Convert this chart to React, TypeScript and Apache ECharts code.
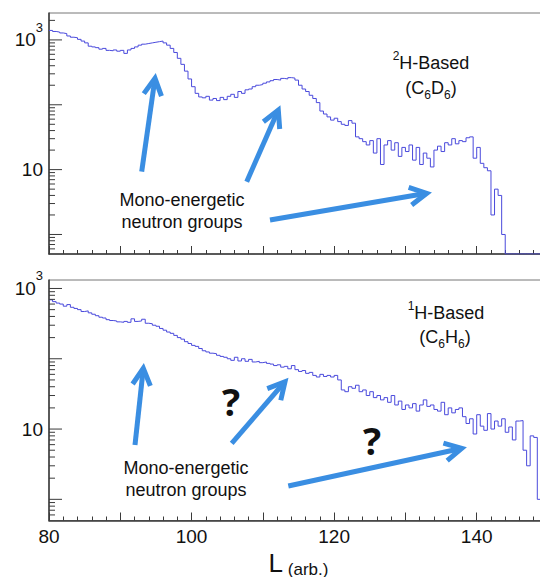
import React, { useEffect, useRef } from "react";
import * as echarts from "echarts";

// ---------- data ----------
const BIN_START = 80;
const BIN_WIDTH = 0.5;
const X_MIN = 80;
const X_MAX = 150;
const X_LABELS = [80, 100, 120, 140];
const Y_MIN = 0.5;
const TOP_Y_MAX = 2600;
const BOTTOM_Y_MAX = 1320;
const Y_MAJOR_TICKS = [1, 10, 100, 1000];
const Y_MINOR_TICKS = [
  0.6, 0.7, 0.8, 0.9, 2, 3, 4, 5, 6, 7, 8, 9, 20, 30, 40, 50, 60, 70, 80, 90,
  200, 300, 400, 500, 600, 700, 800, 900, 2000,
];
const Y_LABEL_EXPONENTS = [1, 3];

// 2H-based (C6D6) counts, bins of 0.5 from L = 80
const countsC6D6 = [
  1400, 1350, 1320, 1280, 1250, 1150, 1100, 1080, 1020, 960,
  900, 800, 780, 760, 720, 740, 690, 680, 700, 670,
  690, 620, 700, 740, 780, 830, 860, 880, 900, 920,
  940, 960, 900, 830, 740, 640, 520, 420, 330, 250,
  190, 150, 132, 128, 135, 118, 125, 116, 130, 120,
  135, 145, 130, 160, 150, 170, 175, 190, 200, 205,
  215, 225, 235, 245, 240, 255, 250, 262, 258, 240,
  200, 175, 160, 140, 125, 108, 80, 72, 65, 58,
  62, 55, 50, 48, 57, 52, 32, 30, 27, 24,
  28, 18, 30, 12, 24, 28, 20, 26, 16, 22,
  19, 24, 14, 22, 12, 18, 15, 11, 20, 23,
  19, 26, 24, 30, 25, 28, 27, 31, 32, 15,
  22, 12.5, 10.7, 9.6, 2, 5, 4, 1, 0, 0,
  0, 0, 0, 0, 0, 0, 0, 0, 0, 0,
];

// 1H-based (C6H6) counts, bins of 0.5 from L = 80
const countsC6H6 = [
  690, 650, 620, 600, 560, 590, 540, 520, 500, 470,
  480, 450, 430, 410, 390, 380, 360, 350, 345, 335,
  330, 340, 330, 370, 340, 345, 365, 320, 315, 300,
  290, 270, 255, 240, 230, 215, 200, 190, 175, 165,
  155, 150, 140, 130, 125, 120, 118, 112, 108, 105,
  100, 95, 105, 93, 100, 92, 98, 90, 92, 88,
  90, 86, 84, 80, 82, 76, 78, 72, 80, 70,
  66, 68, 62, 64, 58, 55, 60, 56, 58, 55,
  58, 50, 36, 34, 40, 38, 42, 34, 36, 30,
  34, 28, 30, 26, 28, 24, 30, 22, 25, 19,
  22, 20, 23, 18, 22, 26, 21, 22, 19, 18,
  24, 16, 20, 17, 19, 20, 15, 12, 14, 8.5,
  16, 11, 9.6, 16.6, 10, 13, 11, 14, 9, 10.7,
  7, 13, 13.2, 5, 3, 8, 7.6, 1, 1, 1,
];

// ---------- styles ----------
const FONT = "Liberation Sans";
const AXIS_COLOR = "#3a3a3a";
const HIST_COLOR = "#4a4adc";
const ARROW_COLOR = "#3a8ee2";
const TEXT_COLOR = "#111";

function buildHist(counts: number[]) {
  const pts: number[][] = counts.map((c, i) => [
    BIN_START + i * BIN_WIDTH,
    Math.max(c, Y_MIN),
  ]);
  pts.push([
    BIN_START + counts.length * BIN_WIDTH,
    Math.max(counts[counts.length - 1], Y_MIN),
  ]);
  return pts;
}

function tickSeries(g: number, max: number) {
  const data = [
    ...Y_MAJOR_TICKS.filter((v) => v <= max).map((v) => [X_MIN, v, 1]),
    ...Y_MINOR_TICKS.filter((v) => v <= max).map((v) => [X_MIN, v, 0]),
  ];
  return {
    type: "custom",
    xAxisIndex: g,
    yAxisIndex: g,
    silent: true,
    clip: false,
    z: 5,
    data,
    renderItem: (params: any, api: any) => {
      const p = api.coord([api.value(0), api.value(1)]);
      const len = api.value(2) ? 13 : 6;
      return {
        type: "line",
        shape: { x1: p[0], y1: p[1], x2: p[0] + len, y2: p[1] },
        style: { stroke: AXIS_COLOR, lineWidth: 1 },
      };
    },
  };
}

function xAxis(g: number, labels: boolean) {
  return {
    type: "value",
    gridIndex: g,
    min: X_MIN,
    max: X_MAX,
    interval: 10,
    axisLine: { show: true, onZero: false, lineStyle: { color: AXIS_COLOR, width: 1.5 } },
    axisTick: { show: true, inside: true, length: 8, lineStyle: { color: AXIS_COLOR, width: 1 } },
    minorTick: { show: true, splitNumber: 5, length: 4, lineStyle: { color: AXIS_COLOR, width: 1 } },
    splitLine: { show: false },
    axisLabel: {
      show: labels,
      margin: 6,
      fontSize: 19,
      fontFamily: FONT,
      color: TEXT_COLOR,
      formatter: (v: number) => (X_LABELS.indexOf(v) >= 0 ? String(v) : ""),
    },
    name: labels ? "{L|L}{a| (arb.)}" : "",
    nameLocation: "middle",
    nameGap: 27,
    nameTextStyle: {
      fontFamily: FONT,
      color: TEXT_COLOR,
      rich: {
        L: { fontSize: 26, lineHeight: 30, fontFamily: FONT, color: TEXT_COLOR, verticalAlign: "middle" },
        a: { fontSize: 17, lineHeight: 27, fontFamily: FONT, color: TEXT_COLOR, verticalAlign: "bottom" },
      },
    },
  };
}

function yAxis(g: number, max: number) {
  return {
    type: "log",
    logBase: 10,
    gridIndex: g,
    min: Y_MIN,
    max,
    axisLine: { show: true, onZero: false, lineStyle: { color: AXIS_COLOR, width: 1.5 } },
    axisTick: { show: false },
    minorTick: { show: false },
    splitLine: { show: false },
    axisLabel: {
      margin: 6,
      formatter: (v: number) => {
        const l = Math.log10(v);
        const e = Math.round(l);
        if (Math.abs(l - e) > 1e-6 || Y_LABEL_EXPONENTS.indexOf(e) < 0) return "";
        return e === 1 ? "{b|10}" : "{b|10}{s|" + e + "}";
      },
      rich: {
        b: { fontSize: 19, lineHeight: 38, fontFamily: FONT, color: TEXT_COLOR, verticalAlign: "middle" },
        s: { fontSize: 13, lineHeight: 13, fontFamily: FONT, color: TEXT_COLOR, verticalAlign: "top" },
      },
    },
  };
}

// ---------- annotations ----------
function arrow(from: number[], to: number[]) {
  const dx = to[0] - from[0];
  const dy = to[1] - from[1];
  const len = Math.hypot(dx, dy);
  const ux = dx / len;
  const uy = dy / len;
  const a = (28 * Math.PI) / 180;
  const L = 19;
  const rx = -ux;
  const ry = -uy;
  const arm = (s: number) => [
    to[0] + L * (rx * Math.cos(s * a) - ry * Math.sin(s * a)),
    to[1] + L * (rx * Math.sin(s * a) + ry * Math.cos(s * a)),
  ];
  return [
    {
      type: "line",
      shape: { x1: from[0], y1: from[1], x2: to[0] - ux * 3, y2: to[1] - uy * 3 },
      style: { stroke: ARROW_COLOR, lineWidth: 5, lineCap: "butt" },
      z: 100,
    },
    {
      type: "polyline",
      shape: { points: [arm(1), to, arm(-1)] },
      style: { stroke: ARROW_COLOR, lineWidth: 5, fill: null, lineJoin: "miter", lineCap: "butt" },
      z: 100,
    },
  ];
}

const supRich = {
  b: { fontSize: 18, lineHeight: 26, fontFamily: FONT, fill: TEXT_COLOR, verticalAlign: "middle" },
  s: { fontSize: 12, lineHeight: 12, fontFamily: FONT, fill: TEXT_COLOR, verticalAlign: "top" },
};
const subRich = {
  b: { fontSize: 18, lineHeight: 26, fontFamily: FONT, fill: TEXT_COLOR, verticalAlign: "middle" },
  s: { fontSize: 12, lineHeight: 16, fontFamily: FONT, fill: TEXT_COLOR, verticalAlign: "bottom" },
};

function label(x: number, y: number, text: string, rich: any) {
  return {
    type: "text",
    x,
    y,
    z: 100,
    style: { text, rich, align: "center", verticalAlign: "middle" },
  };
}

function plain(x: number, y: number, text: string) {
  return {
    type: "text",
    x,
    y,
    z: 100,
    style: {
      text,
      fontSize: 18,
      lineHeight: 22,
      fontFamily: FONT,
      fill: TEXT_COLOR,
      align: "center",
      verticalAlign: "middle",
    },
  };
}

function question(x: number, y: number) {
  return {
    type: "text",
    x,
    y,
    z: 100,
    style: {
      text: "?",
      fontSize: 38,
      fontWeight: "bold",
      fontFamily: "Open Sans",
      fill: TEXT_COLOR,
      align: "center",
      verticalAlign: "middle",
    },
  };
}

const graphics = [
  plain(182, 211, "Mono-energetic\nneutron groups"),
  label(431, 63, "{s|2}{b|H-Based}", supRich),
  label(431, 88, "{b|(C}{s|6}{b|D}{s|6}{b|)}", subRich),
  ...arrow([141.7, 171.7], [155, 78.3]),
  ...arrow([246.7, 181.7], [278.3, 110]),
  ...arrow([270, 220], [426.7, 193.3]),
  plain(186, 479, "Mono-energetic\nneutron groups"),
  label(446, 313, "{s|1}{b|H-Based}", supRich),
  label(445, 337, "{b|(C}{s|6}{b|H}{s|6}{b|)}", subRich),
  question(231, 401),
  question(372, 440),
  ...arrow([135, 445], [143.3, 368.3]),
  ...arrow([231.7, 443.3], [285, 381.7]),
  ...arrow([288.3, 486], [461.7, 448.3]),
];

const option = {
  animation: false,
  backgroundColor: "#fff",
  grid: [
    { left: 49, top: 13, width: 499, height: 241, show: true, borderColor: "#777", borderWidth: 1, outerBoundsMode: "none", containLabel: false },
    { left: 49, top: 280, width: 499, height: 240.5, show: true, borderColor: "#777", borderWidth: 1, outerBoundsMode: "none", containLabel: false },
  ],
  xAxis: [xAxis(0, false), xAxis(1, true)],
  yAxis: [yAxis(0, TOP_Y_MAX), yAxis(1, BOTTOM_Y_MAX)],
  series: [
    {
      type: "line",
      name: "2H-Based (C6D6)",
      xAxisIndex: 0,
      yAxisIndex: 0,
      step: "end",
      symbol: "none",
      data: buildHist(countsC6D6),
      lineStyle: { color: HIST_COLOR, width: 1 },
      itemStyle: { color: HIST_COLOR },
    },
    {
      type: "line",
      name: "1H-Based (C6H6)",
      xAxisIndex: 1,
      yAxisIndex: 1,
      step: "end",
      symbol: "none",
      data: buildHist(countsC6H6),
      lineStyle: { color: HIST_COLOR, width: 1 },
      itemStyle: { color: HIST_COLOR },
    },
    tickSeries(0, TOP_Y_MAX),
    tickSeries(1, BOTTOM_Y_MAX),
  ],
  graphic: graphics,
};

export default function App() {
  const ref = useRef<HTMLDivElement>(null);
  useEffect(() => {
    const chart = echarts.init(ref.current!, null, { renderer: "svg" });
    chart.setOption(option as any);
    return () => chart.dispose();
  }, []);
  return (
    <div
      ref={ref}
      style={{ position: "absolute", left: 0, top: 0, width: 540, height: 577, background: "#fff" }}
    />
  );
}
